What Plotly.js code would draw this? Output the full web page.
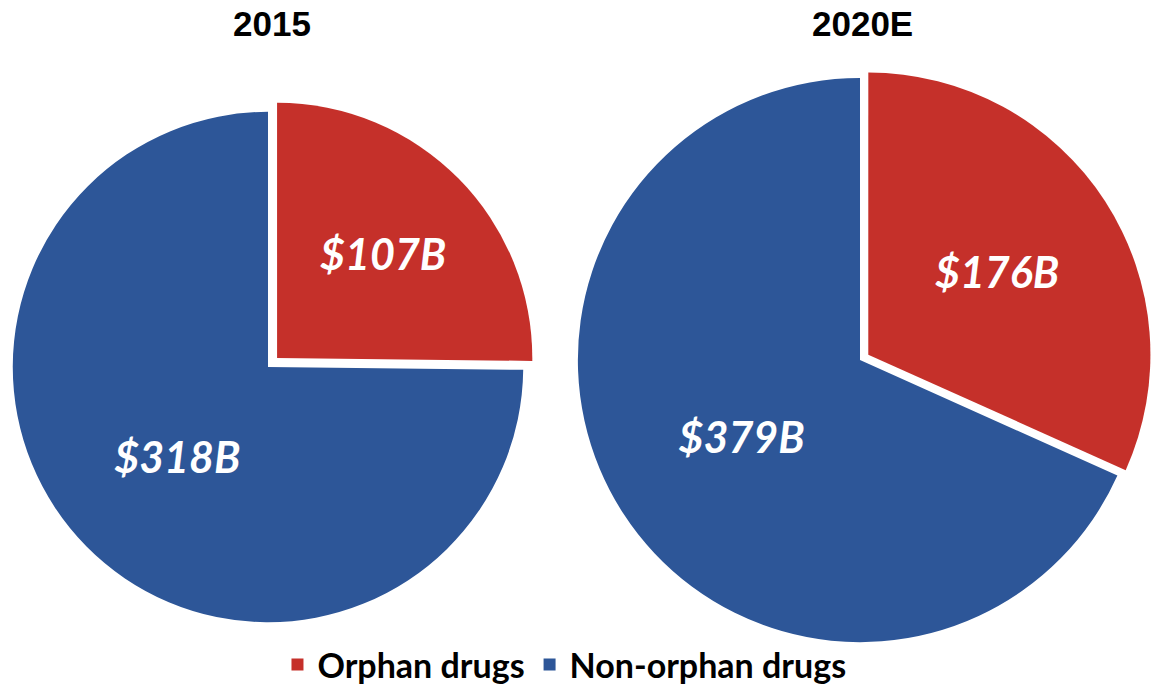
<!DOCTYPE html>
<html>
<head>
<meta charset="utf-8">
<script src="https://cdn.plot.ly/plotly-3.0.1.min.js"></script>
<style>html,body{margin:0;padding:0;background:#fff;}#chart{width:1152px;height:694px;}</style>
</head>
<body>
<div id="chart"></div>
<script>
const categories = ["Orphan drugs", "Non-orphan drugs"];
const years = ["2015", "2020E"];
const values2015 = [107, 318];
const values2020 = [176, 379];
const colors = ["#C5302A", "#2D5698"];

const labelFont = {family: "Lato, 'Open Sans', sans-serif", size: 43, color: "#ffffff", style: "italic", weight: "bold"};

function pieTrace(vals, domain, pull) {
  return {
    type: "pie",
    labels: categories,
    values: vals,
    sort: false,
    direction: "clockwise",
    rotation: 0,
    pull: [pull, 0],
    marker: {colors: colors, line: {width: 0}},
    textinfo: "text",
    texttemplate: "$%{value}B",
    textposition: "inside",
    insidetextorientation: "horizontal",
    insidetextfont: labelFont,
    hoverinfo: "label+value",
    domain: domain
  };
}

const d1 = {x: [0, 536 / 1152], y: [0.085, 0.8573]};
const d2 = {x: [568 / 1152, 1], y: [0.0605, 0.902]};

const data = [
  pieTrace(values2015, d1, 0.05),
  pieTrace(values2020, d2, 0.035)
];

const titleFont = {family: "'Liberation Sans', Arial, sans-serif", size: 35, color: "#000000", weight: "bold"};

const layout = {
  width: 1152,
  height: 694,
  margin: {l: 0, r: 0, t: 0, b: 0},
  paper_bgcolor: "#ffffff",
  showlegend: true,
  legend: {
    orientation: "h",
    x: 0.49,
    xanchor: "center",
    y: 0,
    yanchor: "bottom",
    bgcolor: "rgba(0,0,0,0)",
    font: {family: "Lato, 'Open Sans', sans-serif", size: 34, color: "#000000", weight: "bold"},
    itemwidth: 30,
    tracegroupgap: 0
  },
  annotations: [
    {text: "<b>" + years[0] + "</b>", x: 272 / 1152, y: 1 - 23 / 694, xref: "paper", yref: "paper", showarrow: false, font: titleFont, xanchor: "center", yanchor: "middle"},
    {text: "<b>" + years[1] + "</b>", x: 862 / 1152, y: 1 - 23 / 694, xref: "paper", yref: "paper", showarrow: false, font: titleFont, xanchor: "center", yanchor: "middle"}
  ]
};

Plotly.newPlot("chart", data, layout, {displayModeBar: false, staticPlot: true});
</script>
</body>
</html>
